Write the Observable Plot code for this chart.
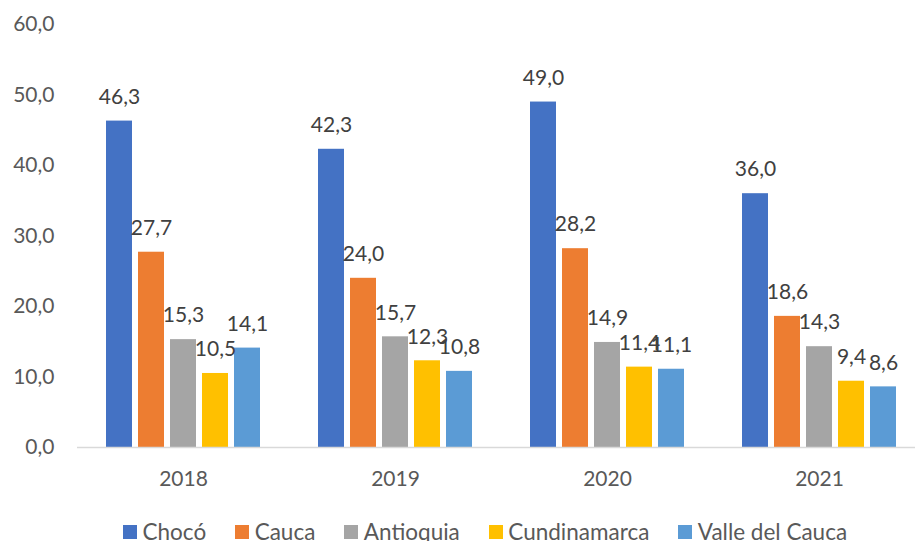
<!DOCTYPE html>
<html>
<head>
<meta charset="utf-8">
<script src="https://cdn.jsdelivr.net/npm/d3@7"></script>
<script src="https://cdn.jsdelivr.net/npm/@observablehq/plot@0.6"></script>
<style>
  html, body { margin: 0; padding: 0; background: #fff; overflow: hidden; }
  body { font-family: Lato, sans-serif; width: 915px; height: 541px; position: relative; }
  #chart svg { max-width: none !important; }
  #legend { position: absolute; top: 518px; left: 123px; display: flex; gap: 29px; font-size: 22.5px; line-height: 28px; color: #595959; white-space: nowrap; }
  #legend .item { display: flex; align-items: center; }
  #legend .sw { width: 14px; height: 14px; margin-right: 5.5px; }
</style>
</head>
<body>
<div id="chart"></div>
<div id="legend"></div>
<script>
const years = ["2018", "2019", "2020", "2021"];
const departments = ["Chocó", "Cauca", "Antioquia", "Cundinamarca", "Valle del Cauca"];
const choco = [46.3, 42.3, 49.0, 36.0];
const cauca = [27.7, 24.0, 28.2, 18.6];
const antioquia = [15.3, 15.7, 14.9, 14.3];
const cundinamarca = [10.5, 12.3, 11.4, 9.4];
const valle = [14.1, 10.8, 11.1, 8.6];
const yTicks = [0, 10, 20, 30, 40, 50, 60];
const colors = ["#4472C4", "#ED7D31", "#A5A5A5", "#FFC000", "#5B9BD5"];

const series = [choco, cauca, antioquia, cundinamarca, valle];
const data = [];
years.forEach((yr, i) => {
  departments.forEach((d, j) => {
    data.push({year: yr, dept: d, value: series[j][i]});
  });
});
const fmt = v => v.toFixed(1).replace(".", ",");

const chart = Plot.plot({
  width: 925,
  height: 500,
  marginLeft: 76,
  marginRight: 0,
  marginTop: 24,
  marginBottom: 53,
  style: {fontFamily: "Lato", fontSize: "21px", color: "#595959", background: "transparent", overflow: "visible", maxWidth: "none"},
  fx: {domain: years, padding: 0, label: null, tickSize: 0, tickPadding: 24, axis: "bottom"},
  x: {domain: departments, paddingInner: 0.2, paddingOuter: 0.865, axis: null},
  y: {domain: [0, 60], ticks: yTicks, tickFormat: fmt, tickSize: 0, tickPadding: 23, label: null},
  color: {domain: departments, range: colors},
  marks: [
    Plot.barY(data, {fx: "year", x: "dept", y: "value", fill: "dept"}),
    Plot.ruleY([0], {stroke: "#d9d9d9", strokeWidth: 1.5}),
    Plot.text(data, {fx: "year", x: "dept", y: "value", text: d => fmt(d.value), dy: -24, lineAnchor: "middle", fill: "#404040", fontSize: 21})
  ]
});
document.getElementById("chart").appendChild(chart);

const legend = document.getElementById("legend");
departments.forEach((d, i) => {
  const item = document.createElement("div");
  item.className = "item";
  const sw = document.createElement("span");
  sw.className = "sw";
  sw.style.background = colors[i];
  const t = document.createElement("span");
  t.textContent = d;
  item.appendChild(sw);
  item.appendChild(t);
  legend.appendChild(item);
});
</script>
</body>
</html>
